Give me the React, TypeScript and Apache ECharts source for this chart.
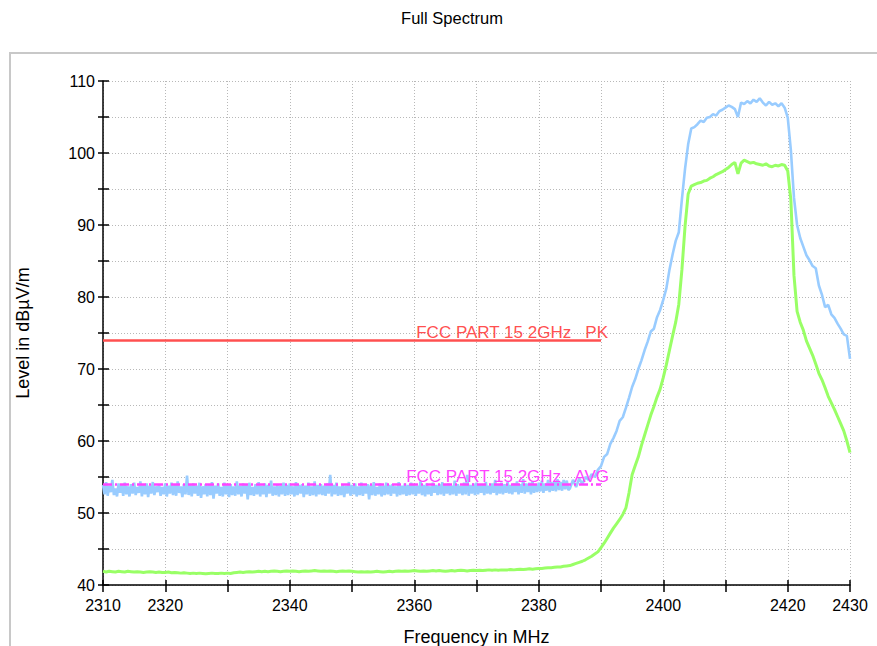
import React, { useEffect, useRef } from "react";
import * as echarts from "echarts";

// Peak detector, noise floor part: 0.25 MHz steps from 2310 to 2384.75 MHz, dBµV/m
const PEAK_FLOOR_START = 2310;
const PEAK_FLOOR_STEP = 0.25;
const peakFloor = [
  53.9, 52.6, 54.3, 52.4, 53.8, 52.9, 54.6, 52.5, 53.4, 52.3, 54.1, 52.8, 53.9, 52.4, 54.2, 52.6, 53.7, 52.3, 54.0, 52.7,
  54.2, 52.5, 53.6, 52.8, 54.4, 52.3, 53.9, 52.6, 54.1, 52.2, 53.8, 52.7, 54.3, 52.5, 53.7, 52.9, 54.0, 52.4, 53.6, 52.6,
  54.1, 52.3, 53.8, 52.7, 54.2, 52.5, 53.9, 52.4, 54.4, 52.8, 53.7, 52.2, 54.0, 52.6, 55.2, 52.5, 53.9, 52.3, 54.1, 52.7,
  53.8, 52.4, 54.2, 52.1, 53.7, 52.6, 54.0, 52.3, 53.9, 52.5, 54.3, 52.0, 53.8, 52.7, 54.1, 52.4, 53.6, 52.3, 54.2, 52.6,
  53.9, 52.2, 54.0, 52.5, 53.7, 52.4, 54.4, 52.6, 53.8, 52.3, 54.1, 52.7, 53.9, 51.9, 54.2, 52.5, 53.6, 52.4, 54.0, 52.6,
  54.3, 52.3, 53.8, 52.6, 54.1, 52.2, 53.9, 52.7, 54.5, 52.4, 53.7, 52.5, 54.0, 52.3, 53.8, 52.6, 54.2, 52.4, 53.9, 52.5,
  54.1, 52.6, 53.7, 52.3, 54.3, 52.5, 53.9, 52.7, 54.0, 52.2, 53.8, 52.6, 54.2, 52.4, 53.7, 52.5, 54.4, 52.3, 53.9, 52.6,
  54.0, 52.5, 53.8, 52.4, 54.1, 52.7, 55.3, 52.3, 53.9, 52.6, 54.2, 52.4, 53.7, 52.5, 54.0, 52.2, 53.8, 52.7, 54.3, 52.4,
  53.9, 52.6, 54.1, 52.3, 53.7, 52.5, 54.2, 52.4, 53.8, 52.7, 54.0, 51.9, 53.9, 52.5, 54.3, 52.4, 53.6, 52.6, 54.1, 52.3,
  53.8, 52.5, 54.2, 52.6, 53.9, 52.4, 54.0, 52.7, 53.7, 52.3, 54.3, 52.5, 53.8, 52.6, 54.1, 52.4, 53.9, 52.5, 54.2, 52.6,
  54.0, 52.4, 53.8, 52.7, 54.4, 52.5, 53.9, 52.3, 54.1, 52.6, 53.7, 52.4, 54.2, 52.8, 53.9, 52.5, 54.0, 52.6, 54.3, 52.4,
  53.9, 52.7, 54.1, 52.5, 53.8, 52.6, 54.5, 52.4, 54.0, 52.7, 53.8, 52.5, 54.2, 52.6, 55.3, 52.4, 53.9, 52.7, 54.1, 52.5,
  54.2, 52.6, 53.9, 52.8, 54.0, 52.5, 54.3, 52.7, 53.8, 52.6, 54.1, 52.8, 54.6, 52.5, 53.9, 52.7, 54.2, 52.6, 54.0, 52.8,
  54.3, 52.7, 53.9, 52.6, 54.1, 52.9, 54.4, 52.6, 54.0, 52.8, 54.7, 52.7, 54.1, 52.9, 54.2, 52.6, 54.4, 52.8, 54.0, 52.9,
  54.2, 53.0, 54.5, 52.8, 54.1, 53.1, 54.6, 52.9, 54.3, 53.1, 54.4, 53.0, 54.7, 53.2, 54.3, 53.1, 54.6, 53.3, 54.5, 53.2,
];

// Peak detector, band part: 0.5 MHz steps from 2385 to 2430 MHz, dBµV/m
const PEAK_BAND_START = 2385;
const PEAK_BAND_STEP = 0.5;
const peakBand = [
  53.4, 54.6, 53.6, 54.8, 54.0, 55.0, 54.6, 55.4, 55.0, 56.0,
  56.5, 57.8, 58.2, 59.6, 60.4, 61.4, 62.8, 63.3, 64.6, 66.0,
  67.5, 68.6, 70.0, 71.2, 72.6, 73.8, 75.2, 75.6, 77.2, 78.2,
  79.6, 81.2, 83.8, 85.9, 87.8, 89.0, 93.6, 97.8, 101.2, 103.4,
  103.6, 104.0, 104.5, 104.3, 104.9, 105.0, 105.4, 105.2, 105.8, 106.0,
  106.3, 106.6, 106.4, 106.1, 105.0, 107.0, 106.8, 107.2, 106.9, 107.4,
  107.1, 107.6, 107.0, 106.6, 107.1, 106.7, 106.9, 106.5, 106.9, 106.3,
  104.9, 100.4, 93.8, 90.0, 88.2, 87.0, 85.8, 85.1, 84.3, 84.0,
  81.6, 80.3, 78.6, 78.9, 77.6, 77.1, 76.3, 75.6, 74.8, 74.6,
  71.4,
];

// Average detector: 0.5 MHz steps from 2310 to 2430 MHz, dBµV/m
const AVG_START = 2310;
const AVG_STEP = 0.5;
const avgTrace = [
  41.9, 41.8, 41.9, 41.85, 41.8, 41.9, 41.85, 41.8, 41.9, 41.85,
  41.8, 41.85, 41.8, 41.75, 41.8, 41.85, 41.8, 41.75, 41.8, 41.75,
  41.75, 41.8, 41.7, 41.75, 41.7, 41.65, 41.7, 41.65, 41.6, 41.65,
  41.6, 41.65, 41.6, 41.55, 41.6, 41.65, 41.6, 41.6, 41.65, 41.6,
  41.65, 41.6, 41.7, 41.75, 41.8, 41.75, 41.8, 41.85, 41.8, 41.85,
  41.9, 41.85, 41.9, 41.85, 41.9, 41.95, 41.9, 41.85, 41.9, 41.95,
  41.9, 41.95, 41.9, 41.85, 41.9, 41.95, 41.9, 41.95, 42.0, 41.95,
  41.9, 41.95, 41.9, 41.95, 41.9, 41.85, 41.9, 41.95, 41.9, 41.95,
  41.9, 41.85, 41.8, 41.85, 41.8, 41.85, 41.8, 41.85, 41.9, 41.85,
  41.8, 41.85, 41.9, 41.85, 41.9, 41.95, 41.9, 41.95, 41.9, 41.95,
  42.0, 41.95, 41.9, 41.95, 41.9, 41.95, 42.0, 41.95, 42.0, 41.95,
  41.9, 41.95, 42.0, 41.95, 42.0, 42.05, 42.0, 41.95, 42.0, 42.05,
  42.0, 42.05, 42.0, 42.05, 42.1, 42.05, 42.1, 42.05, 42.1, 42.1,
  42.1, 42.15, 42.1, 42.15, 42.2, 42.15, 42.2, 42.25, 42.2, 42.25,
  42.3, 42.3, 42.35, 42.4, 42.4, 42.45, 42.5, 42.5, 42.6, 42.65,
  42.7, 42.85, 43.0, 43.15, 43.3, 43.5, 43.75, 44.0, 44.3, 44.6,
  45.2, 45.8, 46.5, 47.2, 47.9, 48.5, 49.1, 49.8, 50.7, 52.8,
  55.3, 56.6, 57.8, 59.4, 60.8, 62.2, 63.6, 64.8, 66.1, 67.2,
  68.8, 70.6, 72.6, 74.6, 76.5, 79.0, 83.8, 89.8, 94.3, 95.4,
  95.6, 95.8, 95.9, 96.1, 96.2, 96.5, 96.7, 97.0, 97.2, 97.4,
  97.7, 98.0, 98.4, 98.7, 97.1, 98.6, 99.0, 98.8, 98.6, 98.7,
  98.5, 98.4, 98.3, 98.5, 98.2, 98.1, 98.3, 98.2, 98.4, 98.3,
  97.5, 93.5, 83.0, 78.0, 76.5, 75.4, 73.9, 72.9, 71.9, 70.7,
  69.4, 68.5, 67.4, 66.2, 65.3, 64.4, 63.4, 62.4, 61.4, 60.0,
  58.4,
];

// Frequencies that carry a tick label on the x axis
const xTickLabels = [2310, 2320, 2340, 2360, 2380, 2400, 2420, 2430];

// FCC Part 15 limit lines: span in MHz and level in dBµV/m
const limitSpan = [2310, 2390];
const limitPkLevel = 74;
const limitAvgLevel = 54;
const limitPkName = "FCC PART 15 2GHz   PK";
const limitAvgName = "FCC PART 15 2GHz   AVG";

const FONT = "'Liberation Sans', Arial, Helvetica, sans-serif";

const toPoints = (values: number[], start: number, step: number) =>
  values.map((v, i) => [start + i * step, v]);

export default function App() {
  const ref = useRef<HTMLDivElement>(null);

  useEffect(() => {
    if (!ref.current) return;
    const chart = echarts.init(ref.current, null, { renderer: "svg" });

    const peakData = [
      ...toPoints(peakFloor, PEAK_FLOOR_START, PEAK_FLOOR_STEP),
      ...toPoints(peakBand, PEAK_BAND_START, PEAK_BAND_STEP),
    ];
    const avgData = toPoints(avgTrace, AVG_START, AVG_STEP);

    // Second, label-less axis on each side: its inward ticks make the
    // ticks cross the axis line
    const innerAxis = {
      type: "value" as const,
      axisLine: { show: false },
      axisLabel: { show: false },
      splitLine: { show: false },
    };

    const option: any = {
      animation: false,
      backgroundColor: "#ffffff",
      textStyle: { fontFamily: FONT },
      graphic: [
        {
          type: "rect",
          silent: true,
          shape: { x: 10, y: 53, width: 900, height: 700 },
          style: { fill: "none", stroke: "#c8c8c8", lineWidth: 2 },
          z: -10,
        },
        {
          type: "text",
          silent: true,
          x: 452,
          y: 18,
          style: {
            text: "Full Spectrum",
            fill: "#000",
            font: `16.5px ${FONT}`,
            textAlign: "center",
            textVerticalAlign: "middle",
          },
        },
      ],
      grid: {
        left: 103,
        right: 27,
        top: 81,
        bottom: 61,
        containLabel: false,
        outerBoundsMode: "none",
      },
      xAxis: [
        {
          type: "value",
          min: 2310,
          max: 2430,
          interval: 10,
          position: "bottom",
          name: "Frequency in MHz",
          nameLocation: "middle",
          nameGap: 43,
          nameTextStyle: { fontSize: 18, color: "#000", fontFamily: FONT },
          axisLine: { show: true, lineStyle: { color: "#000", width: 1.5 } },
          axisTick: { show: true, inside: false, length: 7, lineStyle: { color: "#000", width: 1.5 } },
          axisLabel: {
            show: true,
            margin: 12,
            fontSize: 16,
            color: "#000",
            fontFamily: FONT,
            showMinLabel: true,
            showMaxLabel: true,
            formatter: (v: number) => (xTickLabels.includes(v) ? String(v) : ""),
          },
          splitLine: { show: true, lineStyle: { color: "#b8b8b8", width: 1, type: [1, 2] } },
        },
        {
          ...innerAxis,
          min: 2310,
          max: 2430,
          interval: 10,
          position: "bottom",
          axisTick: { show: true, inside: true, length: 5, lineStyle: { color: "#000", width: 1.5 } },
        },
      ],
      yAxis: [
        {
          type: "value",
          min: 40,
          max: 110,
          interval: 5,
          position: "left",
          name: "Level in dBµV/m",
          nameLocation: "middle",
          nameGap: 71,
          nameRotate: 90,
          nameTextStyle: { fontSize: 18, color: "#000", fontFamily: FONT },
          axisLine: { show: true, lineStyle: { color: "#000", width: 1.5 } },
          axisTick: { show: true, inside: false, length: 5, lineStyle: { color: "#000", width: 1.5 } },
          axisLabel: {
            show: true,
            margin: 8,
            fontSize: 16,
            color: "#000",
            fontFamily: FONT,
            formatter: (v: number) => (v % 10 === 0 ? String(v) : ""),
          },
          splitLine: { show: true, lineStyle: { color: "#b8b8b8", width: 1, type: [1, 2] } },
        },
        {
          ...innerAxis,
          min: 40,
          max: 110,
          interval: 5,
          position: "left",
          axisTick: { show: true, inside: true, length: 6, lineStyle: { color: "#000", width: 1.5 } },
        },
      ],
      series: [
        {
          name: "Average",
          type: "line",
          data: avgData,
          showSymbol: false,
          silent: true,
          lineStyle: { color: "#99ff66", width: 3 },
          z: 2,
        },
        {
          name: "Peak",
          type: "line",
          data: peakData,
          showSymbol: false,
          silent: true,
          lineStyle: { color: "#99ccff", width: 2.6 },
          z: 3,
        },
        {
          name: limitPkName,
          type: "line",
          data: [],
          silent: true,
          z: 5,
          markLine: {
            silent: true,
            animation: false,
            symbol: ["none", "none"],
            lineStyle: { color: "#ff5050", width: 2.5, type: "solid" },
            label: {
              show: true,
              position: "insideEndTop",
              formatter: limitPkName,
              color: "#ff5050",
              fontSize: 17,
              fontFamily: FONT,
              distance: [-7, -1],
            },
            emphasis: { disabled: true },
            data: [[{ coord: [limitSpan[0], limitPkLevel] }, { coord: [limitSpan[1], limitPkLevel] }]],
          },
        },
        {
          name: limitAvgName,
          type: "line",
          data: [],
          silent: true,
          z: 6,
          markLine: {
            silent: true,
            animation: false,
            symbol: ["none", "none"],
            lineStyle: { color: "#ff44ff", width: 2.5, type: [9, 3, 2, 3] },
            label: {
              show: true,
              position: "insideEndTop",
              formatter: limitAvgName,
              color: "#ff44ff",
              fontSize: 17,
              fontFamily: FONT,
              distance: [-8, -1],
            },
            emphasis: { disabled: true },
            data: [[{ coord: [limitSpan[0], limitAvgLevel] }, { coord: [limitSpan[1], limitAvgLevel] }]],
          },
        },
      ],
    };

    chart.setOption(option);
    return () => chart.dispose();
  }, []);

  return (
    <div
      ref={ref}
      style={{ position: "fixed", left: 0, top: 0, width: 877, height: 646 }}
    />
  );
}
